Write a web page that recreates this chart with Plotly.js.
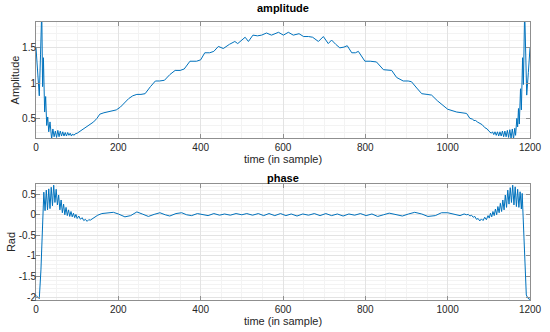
<!DOCTYPE html>
<html>
<head>
<meta charset="utf-8">
<script src="https://cdn.plot.ly/plotly-3.0.1.min.js"></script>
<style>html,body{margin:0;padding:0;background:#fff;}#chart{width:550px;height:332px;}</style>
</head>
<body>
<div id="chart"></div>
<script>
// Amplitude series (sample index, value)
const ampX = [0,4,8,11,14,16,18,21,23.5,26,28.5,31,34,38,41,44,47,50,53,56,59,62,65,68,71,74,77,80,83,86,89,92,95,100,
  110,120,130,140,148,155,165,180,195,205,215,225,235,245,255,265,278,290,300,312,325,338,350,360,374,390,400,410,422,432,443,455,470,483,490,508,516,527,538,548,560,572,589,601,613,625,639,650,662,672,686,698,710,718,728,738,748,756,767,776,783,799,812,827,844,855,864,876,892,904,912,925,937,950,961,975,990,1000,1022,1046,1054,1060,1064,1068,1072,1078,1084,1090,1096,1100,1106,
  1109,1112,1115,1118,1121,1124,1127,1130,1133,1136,1139,1142,1145,1148,1151,1154,1157,1160,1163,1165,1168,1170,1172,1174,1177,1179,1182,1184,1187,1192,1196,1200];
const ampY = [1.50,1.15,0.82,1.40,2.05,0.95,1.36,0.59,0.81,0.40,0.52,0.31,0.45,0.21,0.35,0.24,0.32,0.23,0.33,0.24,0.32,0.25,0.31,0.25,0.30,0.25,0.30,0.26,0.29,0.25,0.28,0.26,0.28,0.29,
  0.33,0.37,0.41,0.45,0.50,0.56,0.58,0.60,0.62,0.66,0.72,0.78,0.82,0.84,0.84,0.85,0.95,1.03,1.03,1.04,1.12,1.18,1.18,1.20,1.31,1.31,1.33,1.43,1.43,1.45,1.52,1.49,1.55,1.59,1.56,1.65,1.59,1.68,1.67,1.68,1.71,1.68,1.72,1.68,1.72,1.68,1.70,1.66,1.66,1.65,1.59,1.66,1.56,1.61,1.55,1.50,1.51,1.53,1.43,1.43,1.45,1.31,1.31,1.30,1.19,1.19,1.18,1.08,1.03,1.03,1.02,0.93,0.85,0.84,0.83,0.75,0.67,0.63,0.59,0.57,0.50,0.49,0.47,0.47,0.45,0.43,0.41,0.37,0.35,0.32,0.29,
  0.31,0.27,0.31,0.26,0.31,0.25,0.31,0.25,0.32,0.24,0.32,0.24,0.33,0.23,0.34,0.22,0.35,0.21,0.36,0.26,0.50,0.38,0.64,0.42,0.92,0.62,1.36,0.98,2.05,0.83,1.15,1.50];

// Phase series (sample index, value in rad)
const phaseX = [0,4,8,12,14.6,17.8,19,22,25,28,31,34,37,40,43,46,49,52,55,58,61,64,67,70,73,76,79,82,85,88,91,94,97,100,104,108,112,116,120,124,128,132,140,150,160,172,188,200,216,230,245,258,273,287,301,314,325,340,354,366,378,392,405,418,432,446,458,472,486,500,512,526,540,553,566,580,594,607,620,634,648,662,676,690,704,718,732,746,760,774,788,802,816,830,844,858,872,890,905,920,937,952,970,985,1000,1015,1030,1040,1046,1050,1054,1058,1062,1066,1070,1074,1078,1082,1086,1090,1094,1098,1101,1104,1107,1110,1113,1116,1119,1122,1125,1128,1131,1134,1137,1140,1143,1146,1149,1152,1155,1158,1161,1164,1167,1170,1173,1176,1179,1181,1183,1185,1188,1191,1195,1200];
const phaseY = [-1.96,-2.00,-2.04,-1.34,-0.57,0.24,0.55,0.10,0.60,0.12,0.63,0.15,0.67,0.22,0.72,0.30,0.62,0.24,0.48,0.12,0.36,0.05,0.26,0.00,0.18,-0.02,0.12,-0.04,0.08,-0.05,0.04,-0.07,0.01,-0.09,-0.03,-0.11,-0.07,-0.14,-0.11,-0.16,-0.12,-0.13,-0.08,-0.01,0.03,0.05,0.06,0.02,-0.05,-0.02,0.07,0.02,-0.04,0.01,0.05,0.00,-0.03,0.03,0.05,0.00,-0.02,0.03,0.01,-0.02,0.03,-0.01,0.02,-0.01,0.03,0.00,0.03,-0.01,0.03,-0.02,0.03,-0.02,0.03,-0.02,0.02,-0.03,0.02,-0.01,0.03,-0.02,0.03,-0.02,0.02,-0.03,0.02,-0.01,0.03,-0.02,0.02,-0.04,0.00,0.04,0.01,-0.03,0.02,0.06,0.02,-0.04,-0.02,0.05,0.05,0.02,-0.02,0.02,0.00,0.01,-0.03,-0.01,-0.06,-0.04,-0.11,-0.09,-0.15,-0.10,-0.14,-0.06,-0.12,-0.02,-0.08,0.04,-0.05,0.08,-0.02,0.14,0.00,0.20,0.05,0.28,0.08,0.36,0.12,0.48,0.18,0.60,0.26,0.66,0.30,0.72,0.24,0.68,0.20,0.62,0.18,0.56,0.14,0.52,0.05,-0.56,-1.34,-1.95,-2.03,-2.06];

const xTicks = [0,200,400,600,800,1000,1200];
const ampTicks = [0.5,1,1.5];
const phaseTicks = [-2,-1.5,-1,-0.5,0,0.5];

const lineColor = '#0072BD';
const fontFam = 'Liberation Sans, Arial, sans-serif';
const axisCommon = {
  showline: true, mirror: 'ticks', linecolor: '#8f8f8f', linewidth: 1,
  ticks: 'inside', ticklen: 4, tickcolor: '#8f8f8f',
  showgrid: true, gridcolor: '#e3e3e3', gridwidth: 1,
  zeroline: false, tickfont: {family: fontFam, size: 10, color: '#262626'}
};

const traces = [
  {x: ampX, y: ampY, type: 'scatter', mode: 'lines', line: {color: lineColor, width: 1}, xaxis: 'x', yaxis: 'y', hoverinfo: 'skip'},
  {x: phaseX, y: phaseY, type: 'scatter', mode: 'lines', line: {color: lineColor, width: 1}, xaxis: 'x2', yaxis: 'y2', hoverinfo: 'skip'}
];

const layout = {
  width: 550, height: 332,
  margin: {l: 36, r: 20, t: 22, b: 32},
  paper_bgcolor: '#ffffff', plot_bgcolor: '#ffffff',
  showlegend: false,
  font: {family: fontFam, color: '#262626'},
  xaxis: Object.assign({}, axisCommon, {
    domain: [0, 1], anchor: 'y', range: [0, 1200], tickvals: xTicks,
    minor: {dtick: 50, showgrid: true, gridcolor: '#f3f3f3', ticks: ''},
    title: {text: 'time (in sample)', font: {family: fontFam, size: 11, color: '#262626'}, standoff: 2}
  }),
  yaxis: Object.assign({}, axisCommon, {
    domain: [0.5827, 1], anchor: 'x', range: [0.222, 1.866], tickvals: ampTicks, ticktext: ['0.5','1','1.5'],
    ticklabelstandoff: -3,
    minor: {dtick: 0.1, showgrid: true, gridcolor: '#f3f3f3', ticks: ''},
    title: {text: 'Amplitude', font: {family: fontFam, size: 11, color: '#262626'}, standoff: 0}
  }),
  xaxis2: Object.assign({}, axisCommon, {
    domain: [0, 1], anchor: 'y2', range: [0, 1200], tickvals: xTicks,
    minor: {dtick: 50, showgrid: true, gridcolor: '#f3f3f3', ticks: ''},
    title: {text: 'time (in sample)', font: {family: fontFam, size: 11, color: '#262626'}, standoff: 2}
  }),
  yaxis2: Object.assign({}, axisCommon, {
    domain: [0, 0.4173], anchor: 'x2', range: [-2.072, 0.749], tickvals: phaseTicks, ticktext: ['-2','-1.5','-1','-0.5','0','0.5'],
    ticklabelstandoff: -3,
    minor: {dtick: 0.1, showgrid: true, gridcolor: '#f3f3f3', ticks: ''},
    title: {text: 'Rad', font: {family: fontFam, size: 11, color: '#262626'}, standoff: 0}
  }),
  annotations: [
    {text: '<b>amplitude</b>', xref: 'paper', yref: 'paper', x: 0.5, y: 1.05, xanchor: 'center', yanchor: 'middle', showarrow: false, font: {family: fontFam, size: 11, color: '#000000'}},
    {text: '<b>phase</b>', xref: 'paper', yref: 'paper', x: 0.5, y: 0.4388, xanchor: 'center', yanchor: 'middle', showarrow: false, font: {family: fontFam, size: 11, color: '#000000'}}
  ]
};

Plotly.newPlot('chart', traces, layout, {displayModeBar: false, staticPlot: true});
</script>
</body>
</html>
